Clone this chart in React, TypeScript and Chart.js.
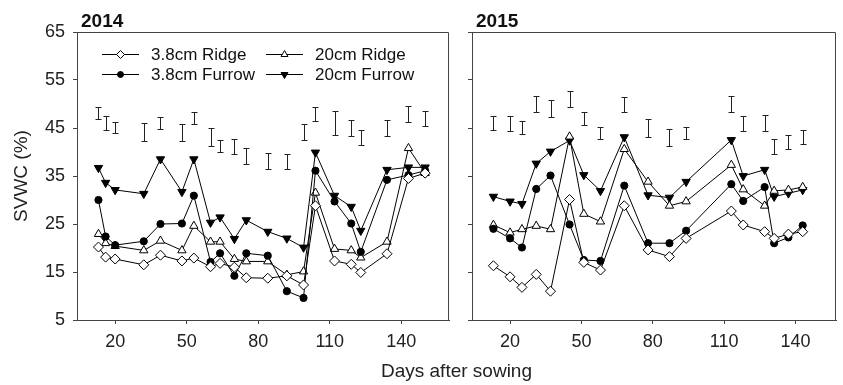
import React, { useEffect, useRef } from "react";
import { Chart, registerables } from "chart.js";
Chart.register(...registerables);

// ---------- data ----------
const days2014 = [13, 16, 20, 32, 39, 48, 53, 60, 64, 70, 75, 84, 92, 99, 104, 112, 119, 123, 134, 143, 150];
const ridge38_2014 = [20.2, 18.1, 17.7, 16.5, 18.5, 17.3, 17.9, 16.1, 16.8, 16.0, 13.8, 13.7, 14.2, 12.3, 28.8, 17.3, 16.6, 14.9, 18.8, 34.5, 35.6];
const furrow38_2014 = [30.0, 22.4, 20.6, 21.4, 25.0, 25.1, 30.9, 17.1, 18.9, 14.2, 18.9, 18.4, 11.0, 9.6, 36.1, 29.7, 25.1, 19.2, 34.2, 35.2, 36.1];
const ridge20_2014 = [22.9, 21.0, 20.4, 19.5, 21.5, 19.5, 24.6, 21.3, 21.3, 17.7, 17.2, 17.2, 14.4, 15.1, 31.5, 19.8, 19.5, 18.0, 21.3, 40.8, 35.6];
const furrow20_2014 = [36.7, 33.6, 32.1, 31.3, 38.5, 31.7, 38.5, 25.3, 26.4, 21.9, 25.8, 23.4, 22.0, 20.1, 39.9, 30.9, 28.6, 23.6, 36.3, 36.8, 36.8];
const errLow2014 = [46.8, 44.6, 43.9, 42.2, 44.8, 42.3, 45.8, 41.3, 39.9, 39.6, 37.5, 36.5, 36.5, 42.4, 46.5, 43.5, 43.4, 41.5, 43.4, 46.3, 45.5];
const errHigh2014 = [49.3, 47.6, 46.3, 46.0, 47.2, 45.8, 48.4, 44.9, 42.5, 42.7, 40.8, 39.7, 39.5, 45.8, 49.4, 48.5, 46.7, 44.6, 46.7, 49.6, 48.6];

const days2015 = [13, 20, 25, 31, 37, 45, 51, 58, 68, 78, 87, 94, 113, 118, 127, 131, 137, 143];
const ridge38_2015 = [16.3, 14.0, 11.8, 14.5, 11.0, 30.1, 17.0, 15.4, 28.8, 19.6, 18.2, 22.0, 27.7, 24.8, 23.4, 22.0, 22.9, 23.4];
const furrow38_2015 = [24.0, 22.0, 20.1, 32.3, 35.1, 24.9, 17.5, 17.3, 33.0, 21.0, 21.0, 23.6, 33.3, 29.8, 32.7, 21.0, 22.2, 24.7];
const ridge20_2015 = [24.8, 23.2, 23.9, 24.6, 23.9, 43.2, 27.1, 25.5, 40.6, 33.8, 28.8, 29.7, 37.3, 32.2, 28.8, 31.9, 32.1, 32.7];
const furrow20_2015 = [30.7, 29.7, 29.2, 37.6, 40.1, 42.4, 35.2, 31.9, 43.1, 31.0, 30.5, 33.8, 42.5, 35.0, 36.3, 30.7, 31.4, 32.1];
const errLow2015 = [44.6, 44.4, 43.8, 48.3, 47.2, 49.3, 45.6, 42.7, 48.4, 43.2, 41.3, 42.7, 48.3, 44.4, 44.4, 39.5, 40.6, 41.7];
const errHigh2015 = [47.4, 47.6, 46.5, 51.7, 50.8, 52.8, 48.4, 45.3, 51.5, 46.8, 44.8, 45.3, 51.7, 47.6, 47.7, 42.7, 43.5, 44.6];

const xTickValues = [20, 50, 80, 110, 140];
const yTickValues = [5, 15, 25, 35, 45, 55, 65];
const seriesNames = ["3.8cm Ridge", "3.8cm Furrow", "20cm Ridge", "20cm Furrow"];

const FONT = "'Liberation Sans', Arial, Helvetica, sans-serif";
const AXIS = "#444";

type Style = { pointStyle: any; radius: number; fill: string; rotation: number };
const styles: Style[] = [
  { pointStyle: "rectRot", radius: 5, fill: "#fff", rotation: 0 },
  { pointStyle: "circle", radius: 3.6, fill: "#000", rotation: 0 },
  { pointStyle: "triangle", radius: 4.8, fill: "#fff", rotation: 0 },
  { pointStyle: "triangle", radius: 4.8, fill: "#000", rotation: 180 },
];

function buildDatasets(days: number[], series: number[][]) {
  return series.map((vals, i) => ({
    label: seriesNames[i],
    data: days.map((d, j) => ({ x: d, y: vals[j] })),
    borderColor: "#000",
    borderWidth: 1,
    backgroundColor: styles[i].fill,
    pointStyle: styles[i].pointStyle,
    pointRadius: styles[i].radius,
    pointRotation: styles[i].rotation,
    pointBackgroundColor: styles[i].fill,
    pointBorderColor: "#000",
    pointBorderWidth: 1,
    tension: 0,
  }));
}

function drawMarker(ctx: CanvasRenderingContext2D, si: number, x: number, y: number) {
  const s = styles[si];
  ctx.save();
  ctx.fillStyle = s.fill;
  ctx.strokeStyle = "#000";
  ctx.lineWidth = 1;
  ctx.beginPath();
  if (si === 0) {
    const r = 4;
    ctx.moveTo(x, y - r);
    ctx.lineTo(x + r, y);
    ctx.lineTo(x, y + r);
    ctx.lineTo(x - r, y);
    ctx.closePath();
  } else if (si === 1) {
    ctx.arc(x, y, 3, 0, Math.PI * 2);
  } else {
    const r = 4;
    const dir = si === 3 ? 1 : -1;
    const h = r * 1.5;
    const w = r * Math.sqrt(3) / 2;
    ctx.moveTo(x, y + dir * r);
    ctx.lineTo(x + w, y - dir * (h - r));
    ctx.lineTo(x - w, y - dir * (h - r));
    ctx.closePath();
  }
  ctx.fill();
  ctx.stroke();
  ctx.restore();
}

const panelPlugin = {
  id: "panel",
  beforeDatasetsDraw(chart: any, _a: any, opts: any) {
    const { ctx, chartArea: a, scales } = chart;
    const x = scales.x, y = scales.y;
    ctx.save();
    ctx.strokeStyle = AXIS;
    ctx.lineWidth = 1;
    ctx.beginPath();
    ctx.moveTo(a.left, a.top + 0.5);
    ctx.lineTo(a.right - 0.5, a.top + 0.5);
    ctx.lineTo(a.right - 0.5, a.bottom);
    ctx.stroke();
    ctx.strokeStyle = "#222";
    opts.days.forEach((d: number, i: number) => {
      const px = Math.round(x.getPixelForValue(d)) + 0.5;
      const y1 = Math.round(y.getPixelForValue(opts.lo[i])) + 0.5;
      const y2 = Math.round(y.getPixelForValue(opts.hi[i])) + 0.5;
      ctx.beginPath();
      ctx.moveTo(px, y1);
      ctx.lineTo(px, y2);
      ctx.moveTo(px - 3, y1);
      ctx.lineTo(px + 3, y1);
      ctx.moveTo(px - 3, y2);
      ctx.lineTo(px + 3, y2);
      ctx.stroke();
    });
    ctx.restore();
  },
  afterDraw(chart: any, _a: any, opts: any) {
    const { ctx, chartArea: a } = chart;
    ctx.save();
    ctx.fillStyle = "#111";
    ctx.font = `bold 19px ${FONT}`;
    ctx.textAlign = "left";
    ctx.textBaseline = "alphabetic";
    ctx.fillText(opts.title, a.left + 4, 27);
    if (opts.yTitle) {
      ctx.save();
      ctx.translate(22, (a.top + a.bottom) / 2);
      ctx.rotate(-Math.PI / 2);
      ctx.font = `19px ${FONT}`;
      ctx.textAlign = "center";
      ctx.textBaseline = "middle";
      ctx.fillStyle = "#222";
      ctx.fillText("SVWC (%)", 0, 0);
      ctx.restore();
    }
    if (opts.legend) {
      const cols = [a.left + 25, a.left + 189];
      const rows = [a.top + 22, a.top + 42];
      const order = [[0, 0, 0], [1, 0, 1], [2, 1, 0], [3, 1, 1]];
      ctx.font = `17px ${FONT}`;
      ctx.textBaseline = "middle";
      ctx.textAlign = "left";
      order.forEach(([si, c, r]) => {
        const lx = cols[c], ly = rows[r];
        ctx.strokeStyle = "#000";
        ctx.lineWidth = 1;
        ctx.beginPath();
        ctx.moveTo(lx, ly + 0.5);
        ctx.lineTo(lx + 37, ly + 0.5);
        ctx.stroke();
        drawMarker(ctx, si, lx + 18.5, ly + 0.5);
        ctx.fillStyle = "#111";
        ctx.fillText(seriesNames[si], lx + 49, ly + 1);
      });
    }
    ctx.restore();
  },
};

function makeConfig(days: number[], series: number[][], lo: number[], hi: number[], isLeft: boolean, xMax: number, padRight: number) {
  return {
    type: "line" as const,
    data: { datasets: buildDatasets(days, series) },
    plugins: [panelPlugin],
    options: {
      animation: false as const,
      responsive: false,
      maintainAspectRatio: false,
      layout: { padding: { top: 32, right: padRight, left: 0, bottom: 0 } },
      plugins: {
        legend: { display: false },
        tooltip: { enabled: false },
        panel: { days, lo, hi, title: isLeft ? "2014" : "2015", legend: isLeft, yTitle: isLeft },
      },
      scales: {
        x: {
          type: "linear" as const,
          min: 4,
          max: xMax,
          afterBuildTicks: (s: any) => { s.ticks = xTickValues.map((v) => ({ value: v })); },
          afterFit: (s: any) => { s.height = 65; },
          grid: { display: true, drawOnChartArea: false, drawTicks: true, tickLength: 4, color: AXIS },
          border: { display: true, color: AXIS, width: 1 },
          ticks: { font: { family: FONT, size: 18 }, color: "#222", padding: 7, maxRotation: 0, autoSkip: false },
        },
        y: {
          type: "linear" as const,
          min: 5,
          max: 65,
          afterBuildTicks: (s: any) => { s.ticks = yTickValues.map((v) => ({ value: v })); },
          afterFit: (s: any) => { s.width = isLeft ? 77 : 17; },
          grid: { display: true, drawOnChartArea: false, drawTicks: true, tickLength: 4, color: AXIS },
          border: { display: true, color: AXIS, width: 1 },
          ticks: { display: isLeft, font: { family: FONT, size: 18 }, color: "#222", padding: 8 },
        },
      },
    },
  };
}

export default function App() {
  const leftRef = useRef<HTMLCanvasElement>(null);
  const rightRef = useRef<HTMLCanvasElement>(null);

  useEffect(() => {
    const c1 = new Chart(
      leftRef.current as HTMLCanvasElement,
      makeConfig(days2014, [ridge38_2014, furrow38_2014, ridge20_2014, furrow20_2014], errLow2014, errHigh2014, true, 160, 6) as any
    );
    const c2 = new Chart(
      rightRef.current as HTMLCanvasElement,
      makeConfig(days2015, [ridge38_2015, furrow38_2015, ridge20_2015, furrow20_2015], errLow2015, errHigh2015, false, 157, 7) as any
    );
    return () => {
      c1.destroy();
      c2.destroy();
    };
  }, []);

  return (
    <div style={{ position: "absolute", left: 0, top: 0, width: 843, height: 385, background: "#fff", overflow: "hidden" }}>
      <canvas ref={leftRef} width={455} height={385} style={{ position: "absolute", left: 0, top: 0, width: 455, height: 385 }} />
      <canvas ref={rightRef} width={388} height={385} style={{ position: "absolute", left: 455, top: 0, width: 388, height: 385 }} />
      <div
        style={{
          position: "absolute",
          left: 77,
          width: 759,
          top: 361,
          lineHeight: "19px",
          fontSize: 19,
          fontFamily: FONT,
          color: "#222",
          textAlign: "center",
          whiteSpace: "nowrap",
        }}
      >
        Days after sowing
      </div>
    </div>
  );
}
